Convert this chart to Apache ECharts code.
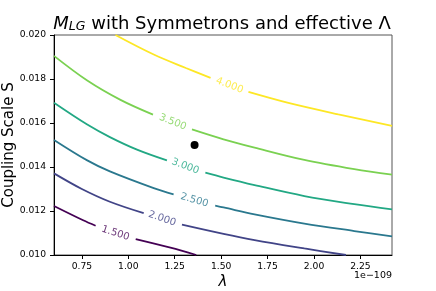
<!DOCTYPE html>
<html>
<head>
<meta charset="utf-8">
<script src="https://cdn.jsdelivr.net/npm/echarts@6/dist/echarts.min.js"></script>
<style>
html,body{margin:0;padding:0;background:#fff;}
#chart{width:436px;height:291px;}
</style>
</head>
<body>
<div id="chart"></div>
<script>
// λ (units of 1e-109) and coupling scale S; ['-','-'] = label gap
const lambdaTicks = [0.75, 1.00, 1.25, 1.50, 1.75, 2.00, 2.25];
const sTicksMin = 0.010, sTicksMax = 0.020, sTickStep = 0.002;
const levelNames = ['1.500', '2.000', '2.500', '3.000', '3.500', '4.000'];

const contour150 = [[0.600,0.01223],[0.757,0.01158],[0.824,0.01133],['-','-'],[1.040,0.01072],[1.227,0.01033],[1.366,0.01000]];
const contour200 = [[0.600,0.01371],[0.750,0.01300],[0.901,0.01242],[1.083,0.01190],['-','-'],[1.289,0.01138],[1.513,0.01096],[1.680,0.01068],[1.948,0.01030],[2.172,0.01000]];
const contour250 = [[0.600,0.01523],[0.779,0.01430],[0.901,0.01380],[1.137,0.01304],[1.244,0.01276],['-','-'],[1.468,0.01224],[1.513,0.01216],[1.680,0.01185],[1.948,0.01143],[2.217,0.01109],[2.420,0.01085]];
const contour300 = [[0.600,0.01692],[0.779,0.01593],[0.901,0.01536],[1.047,0.01479],[1.208,0.01430],['-','-'],[1.415,0.01374],[1.513,0.01352],[1.680,0.01318],[1.948,0.01268],[2.217,0.01231],[2.420,0.01207]];
const contour350 = [[0.600,0.01905],[0.779,0.01793],[0.958,0.01705],[1.133,0.01638],['-','-'],[1.343,0.01571],[1.513,0.01526],[1.680,0.01488],[1.948,0.01432],[2.217,0.01390],[2.420,0.01365]];
const contour400 = [[0.931,0.02000],[1.140,0.01910],[1.310,0.01850],[1.443,0.01805],['-','-'],[1.647,0.01741],[1.862,0.01691],[2.131,0.01639],[2.420,0.01587]];

// contour label anchor points (λ, S) in the same order as levelNames
const labelLambda = [0.931, 1.182, 1.356, 1.307, 1.239, 1.545];
const labelS      = [0.01099, 0.01165, 0.01249, 0.01403, 0.01604, 0.01771];

const markedPoint = [[1.357, 0.01500]];

const contours = [contour150, contour200, contour250, contour300, contour350, contour400];
const colors = ['#440154', '#414487', '#2a788e', '#22a884', '#7ad151', '#fde725'];
const labelAngles = [-18, -19, -16, -21, -22, -21];
const FONT = 'DejaVu Sans';

const series = [];
contours.forEach((c, i) => {
  series.push({
    type: 'line',
    data: c,
    smooth: 0.35,
    showSymbol: false,
    connectNulls: false,
    silent: true,
    lineStyle: { color: colors[i], width: 1.8, opacity: 1 },
    z: 2
  });
});
series.push({
  type: 'scatter',
  symbolSize: 0,
  silent: true,
  data: levelNames.map((n, i) => ({
    value: [labelLambda[i], labelS[i]],
    label: {
      show: true,
      position: 'inside',
      formatter: n,
      rotate: labelAngles[i],
      color: colors[i],
      fontSize: 10,
      fontFamily: FONT
    }
  })),
  z: 3
});
series.push({
  type: 'scatter',
  data: markedPoint,
  symbol: 'circle',
  symbolSize: 8,
  itemStyle: { color: '#000', opacity: 1 },
  silent: true,
  z: 4
});

const chart = echarts.init(document.getElementById('chart'), null, { renderer: 'canvas' });
chart.setOption({
  animation: false,
  backgroundColor: '#fff',
  title: {
    text: '{m|M}{s|LG}{n| with Symmetrons and effective Λ}',
    left: 217,
    textAlign: 'center',
    top: 7,
    textStyle: {
      fontWeight: 'normal',
      rich: {
        m: { fontSize: 18, fontStyle: 'italic', fontWeight: 'normal', fontFamily: FONT, color: '#000', lineHeight: 21, verticalAlign: 'bottom' },
        s: { fontSize: 12.5, fontStyle: 'italic', fontWeight: 'normal', fontFamily: FONT, color: '#000', lineHeight: 6, verticalAlign: 'bottom' },
        n: { fontSize: 18, fontWeight: 'normal', fontFamily: FONT, color: '#000', lineHeight: 21, verticalAlign: 'bottom' }
      }
    }
  },
  grid: { left: 54, right: 44, top: 35, bottom: 36, outerBoundsMode: 'none', containLabel: false, show: true, borderColor: '#555', borderWidth: 1, backgroundColor: 'transparent' },
  xAxis: {
    type: 'value',
    min: 0.6,
    max: 2.42,
    name: 'λ',
    nameLocation: 'middle',
    nameGap: 20,
    nameMoveOverlap: false,
    nameTextStyle: { fontSize: 15, fontStyle: 'italic', fontFamily: FONT, color: '#000' },
    axisLine: { show: true, lineStyle: { color: '#000', width: 1 } },
    axisTick: { show: true, inside: false, length: 4, lineStyle: { color: '#000' }, customValues: lambdaTicks },
    axisLabel: { color: '#000', fontSize: 9.2, fontFamily: FONT, margin: 7, customValues: lambdaTicks, formatter: v => v.toFixed(2) },
    splitLine: { show: false }
  },
  yAxis: {
    type: 'value',
    min: sTicksMin,
    max: sTicksMax,
    interval: sTickStep,
    name: 'Coupling Scale S',
    nameLocation: 'middle',
    nameGap: 37,
    nameRotate: 90,
    nameMoveOverlap: false,
    nameTextStyle: { fontSize: 15, fontFamily: FONT, color: '#000' },
    axisLine: { show: true, lineStyle: { color: '#000', width: 1 } },
    axisTick: { show: true, inside: false, length: 4, lineStyle: { color: '#000' } },
    axisLabel: { color: '#000', fontSize: 9.2, fontFamily: FONT, margin: 8, formatter: v => v.toFixed(3) },
    splitLine: { show: false }
  },
  graphic: [{
    type: 'text',
    right: 44,
    top: 271,
    style: { text: '1e−109', font: '9.5px "DejaVu Sans"', fill: '#000' }
  }],
  series: series
});
</script>
</body>
</html>
